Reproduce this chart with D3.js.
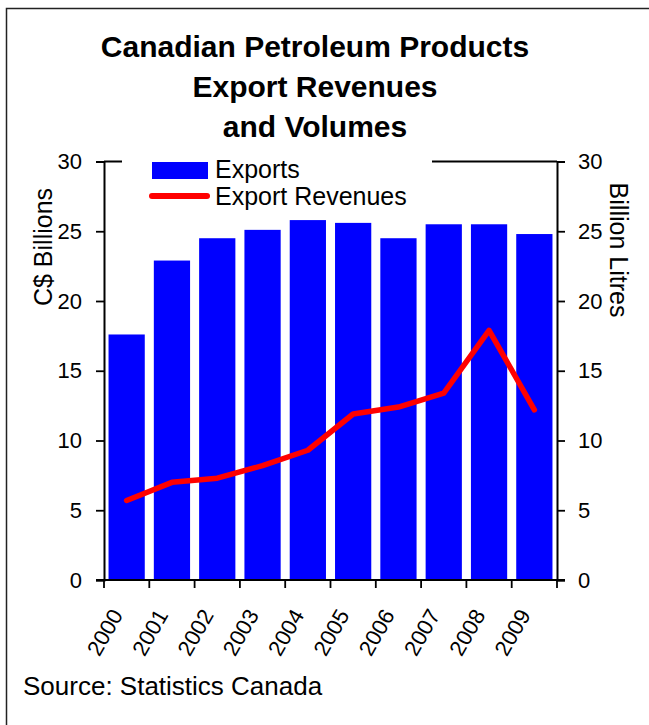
<!DOCTYPE html>
<html>
<head>
<meta charset="utf-8">
<script src="https://cdn.jsdelivr.net/npm/d3@7"></script>
<style>
  html, body { margin: 0; padding: 0; background: #fff; }
  svg { display: block; font-family: "Liberation Sans", Arial, Helvetica, sans-serif; }
</style>
</head>
<body>
<svg id="chart" width="649" height="725"></svg>
<script>
// ---- data ----
const years = ["2000","2001","2002","2003","2004","2005","2006","2007","2008","2009"];
const exportsVolume = [17.6, 22.9, 24.5, 25.1, 25.8, 25.6, 24.5, 25.5, 25.5, 24.8]; // billion litres (right axis)
const exportRevenues = [5.7, 7.0, 7.3, 8.2, 9.3, 11.9, 12.4, 13.4, 17.9, 12.2]; // C$ billions (left axis)
const yTicks = [0, 5, 10, 15, 20, 25, 30];
const titleLines = ["Canadian Petroleum Products", "Export Revenues", "and Volumes"];
const legendLabels = ["Exports", "Export Revenues"];

(function () {
const svg = d3.select("#chart");
const pLeft = 104, pRight = 557, pTop = 161.5, pBottom = 580;

// outer frame
svg.append("rect")
  .attr("x", 6.5).attr("y", 8.5).attr("width", 700).attr("height", 760)
  .attr("fill", "none").attr("stroke", "#222").attr("stroke-width", 1.5);

// title
svg.append("g").selectAll("text").data(titleLines).join("text")
  .attr("x", 315).attr("y", (d, i) => 57 + i * 40)
  .attr("text-anchor", "middle")
  .attr("font-size", 30).attr("font-weight", "bold")
  .text(d => d);

const x = d3.scaleBand().domain(years).range([pLeft, pRight]).paddingInner(0.2).paddingOuter(0.1);
const yL = d3.scaleLinear().domain([0, 30]).range([pBottom, pTop]);
const yR = d3.scaleLinear().domain([0, 30]).range([pBottom, pTop]);

// bars
svg.append("g").selectAll("rect").data(years).join("rect")
  .attr("x", d => x(d))
  .attr("width", x.bandwidth())
  .attr("y", (d, i) => yR(exportsVolume[i]))
  .attr("height", (d, i) => yR(0) - yR(exportsVolume[i]))
  .attr("fill", "#0000ff");

// top frame line
svg.append("line")
  .attr("x1", pLeft).attr("x2", pRight).attr("y1", pTop).attr("y2", pTop)
  .attr("stroke", "#000").attr("stroke-width", 2);

// line
const line = d3.line()
  .x((d, i) => x(years[i]) + x.bandwidth() / 2)
  .y(d => yL(d));
svg.append("path").datum(exportRevenues)
  .attr("d", line)
  .attr("fill", "none").attr("stroke", "#ff0000").attr("stroke-width", 5.5)
  .attr("stroke-linejoin", "round").attr("stroke-linecap", "round");

// left axis
const gL = svg.append("g").attr("transform", `translate(${pLeft},0)`)
  .call(d3.axisLeft(yL).tickValues(yTicks).tickSize(8).tickPadding(14));
// right axis
const gR = svg.append("g").attr("transform", `translate(${pRight},0)`)
  .call(d3.axisRight(yR).tickValues(yTicks).tickSize(8).tickPadding(13));
[gL, gR].forEach(g => {
  g.select(".domain").attr("stroke", "#000").attr("stroke-width", 2);
  g.selectAll(".tick line").attr("stroke", "#000").attr("stroke-width", 1.8);
  g.selectAll(".tick text").attr("font-size", 22).attr("fill", "#000")
    .attr("font-family", "Liberation Sans, Arial, sans-serif");
});

// bottom axis: line + boundary ticks
const step = x.step();
const boundaries = years.map(d => x(d) - step * x.paddingInner() / 2).concat([pRight]);
boundaries[0] = pLeft;
svg.append("line")
  .attr("x1", pLeft - 8).attr("x2", pRight + 8).attr("y1", pBottom).attr("y2", pBottom)
  .attr("stroke", "#000").attr("stroke-width", 2);
svg.append("g").selectAll("line").data(boundaries).join("line")
  .attr("x1", d => d).attr("x2", d => d)
  .attr("y1", pBottom).attr("y2", pBottom + 8)
  .attr("stroke", "#000").attr("stroke-width", 1.8);

// year labels
svg.append("g").selectAll("text").data(years).join("text")
  .attr("transform", d => `translate(${x(d) + x.bandwidth() / 2 - 3},615) rotate(-60)`)
  .attr("text-anchor", "end")
  .attr("font-size", 22)
  .text(d => d);

// axis titles
svg.append("text")
  .attr("transform", "translate(52,247) rotate(-90)")
  .attr("text-anchor", "middle").attr("font-size", 25)
  .text("C$ Billions");
svg.append("text")
  .attr("transform", "translate(610,250) rotate(90)")
  .attr("text-anchor", "middle").attr("font-size", 25)
  .text("Billion Litres");

// legend
const lg = svg.append("g");
lg.append("rect").attr("x", 122).attr("y", 150).attr("width", 310).attr("height", 62).attr("fill", "#fff");
lg.append("rect").attr("x", 152).attr("y", 162).attr("width", 56).attr("height", 17).attr("fill", "#0000ff");
lg.append("line").attr("x1", 152).attr("x2", 207).attr("y1", 196).attr("y2", 196)
  .attr("stroke", "#ff0000").attr("stroke-width", 6).attr("stroke-linecap", "round");
lg.selectAll("text.lab").data(legendLabels).join("text")
  .attr("class", "lab")
  .attr("x", 215).attr("y", (d, i) => 178 + i * 27)
  .attr("font-size", 25)
  .text(d => d);

// source
svg.append("text").attr("x", 23).attr("y", 695).attr("font-size", 26)
  .text("Source: Statistics Canada");
})();
</script>
</body>
</html>
